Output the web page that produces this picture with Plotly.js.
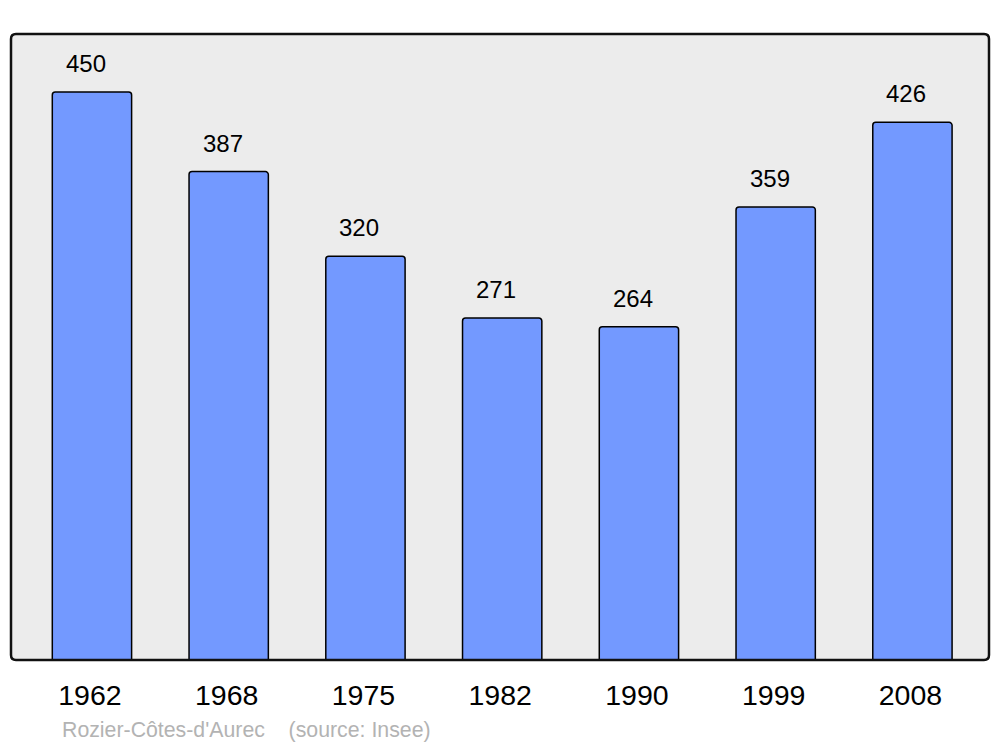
<!DOCTYPE html>
<html><head><meta charset="utf-8">
<script src="https://cdn.plot.ly/plotly-3.0.1.min.js"></script>
<style>html,body{margin:0;padding:0;background:#fff}#c{width:1000px;height:747px}</style>
</head><body><div id="c"></div>
<script>
const years = ['1962','1968','1975','1982','1990','1999','2008'];
const population = [450,387,320,271,264,359,426];
const sourceText = 'Rozier-Côtes-d\'Aurec    (source: Insee)';

const W = 978, H = 626, r = 5;
const rx = r / W, ry = r / H;
const path = `M ${rx},0 L ${1-rx},0 Q 1,0 1,${ry} L 1,${1-ry} Q 1,1 ${1-rx},1 L ${rx},1 Q 0,1 0,${1-ry} L 0,${ry} Q 0,0 ${rx},0 Z`;

const trace = {
  type: 'bar', x: years, y: population, width: 0.58,
  marker: {color: '#7399ff', line: {color: '#000', width: 1.5}, cornerradius: 3},
  hoverinfo: 'none'
};
const annotations = years.map((yr, i) => ({
  x: i, y: population[i], xref: 'x', yref: 'y', text: String(population[i]),
  showarrow: false, yanchor: 'bottom', yshift: 13, xshift: -6,
  font: {family: 'Liberation Sans, Arial, sans-serif', size: 24, color: '#000'}
}));
annotations.push({
  xref: 'paper', yref: 'paper', x: 49/978, y: -70/626, xanchor: 'left', yanchor: 'middle',
  text: sourceText.replace(/ /g, '&nbsp;'), showarrow: false,
  font: {family: 'Liberation Sans, Arial, sans-serif', size: 21.3, color: '#b3b3b3'}
});
const layout = {
  width: 1000, height: 747,
  margin: {l: 11, r: 11, t: 34, b: 87, pad: 0},
  paper_bgcolor: '#fff', plot_bgcolor: 'rgba(0,0,0,0)',
  showlegend: false,
  font: {family: 'Liberation Sans, Arial, sans-serif'},
  xaxis: {type: 'category', range: [-0.592, 6.56], showgrid: false, zeroline: false,
    showline: false, ticks: 'outside', ticklen: 10, tickcolor: 'rgba(0,0,0,0)',
    ticklabelshift: -2,
    tickfont: {size: 28.5, color: '#000'}, fixedrange: true},
  yaxis: {range: [0, 496], showgrid: false, zeroline: false, showticklabels: false,
    showline: false, ticks: '', fixedrange: true},
  shapes: [
    {type: 'path', xref: 'paper', yref: 'paper', path: path, fillcolor: '#ececec',
     line: {width: 0}, layer: 'below'},
    {type: 'path', xref: 'paper', yref: 'paper', path: path, fillcolor: 'rgba(0,0,0,0)',
     line: {color: '#111', width: 2.5}, layer: 'above'}
  ],
  annotations: annotations
};
Plotly.newPlot('c', [trace], layout, {staticPlot: true, displayModeBar: false});
</script></body></html>
